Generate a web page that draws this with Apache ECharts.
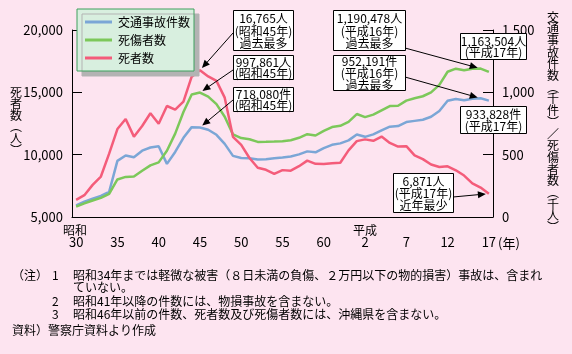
<!DOCTYPE html>
<html>
<head>
<meta charset="utf-8">
<script src="https://cdn.jsdelivr.net/npm/echarts@6/dist/echarts.min.js"></script>
<style>
  html, body { margin: 0; padding: 0; background: #fde4f0; }
  #main { width: 572px; height: 354px; }
</style>
</head>
<body>
<div id="main"></div>
<script>
// 年（昭和30年～平成17年）
const categories = ['30', '31', '32', '33', '34', '35', '36', '37', '38', '39',
  '40', '41', '42', '43', '44', '45', '46', '47', '48', '49',
  '50', '51', '52', '53', '54', '55', '56', '57', '58', '59',
  '60', '61', '62', '63', '元', '2', '3', '4', '5', '6',
  '7', '8', '9', '10', '11', '12', '13', '14', '15', '16', '17']

// 死者数（人）
const deaths = [6379, 6751, 7575, 8248, 10079, 12055, 12865, 11445, 12301, 13318,
  12484, 13904, 13618, 14256, 16257, 16765, 16278, 15918, 14574, 11432,
  10792, 9734, 8945, 8783, 8466, 8760, 8719, 9073, 9520, 9262,
  9261, 9317, 9347, 10344, 11086, 11227, 11109, 11452, 10942, 10649,
  10684, 9942, 9640, 9211, 9006, 9066, 8747, 8326, 7702, 7358, 6871]

// 交通事故件数（千件）
const accidents = [94.0, 122.7, 146.8, 168.8, 201.3, 449.9, 493.7, 479.8, 532.0, 557.2,
  567.3, 425.9, 521.5, 635.1, 720.9, 718.1, 700.3, 659.3, 586.7, 490.5,
  472.9, 471.0, 460.6, 464.0, 471.6, 476.7, 485.6, 502.3, 526.4, 518.6,
  552.8, 579.2, 590.7, 614.5, 661.4, 643.1, 662.4, 695.3, 724.7, 729.5,
  761.8, 771.1, 780.4, 803.9, 850.4, 931.9, 947.2, 936.7, 948.3, 952.2, 933.8]

// 死傷者数（千人）
const casualties = [82.9, 108.8, 132.1, 153.7, 186.0, 301.2, 321.6, 325.3, 371.4, 414.4,
  438.2, 531.7, 669.0, 842.3, 983.3, 997.9, 966.0, 905.1, 804.5, 662.9,
  633.3, 623.7, 602.2, 602.9, 604.7, 607.5, 616.1, 635.3, 664.3, 653.6,
  690.6, 721.6, 731.5, 763.2, 825.9, 801.5, 821.4, 855.5, 889.6, 892.4,
  933.4, 952.1, 968.6, 999.9, 1059.4, 1164.8, 1189.8, 1176.4, 1189.1, 1190.5, 1163.5]

const seriesNames = ['交通事故件数', '死傷者数', '死者数']

const FONT = '"Noto Sans CJK JP", "Noto Sans", sans-serif'
const BLUE = '#7ba6d6'
const GREEN = '#7cc85a'
const RED = '#f45c7a'

const chart = echarts.init(document.getElementById('main'))

function vText(str, x, y, lh) {
  return {
    type: 'text', left: x, top: y,
    style: { text: str.split('').join('\n'), font: '12px ' + FONT, fill: '#000', align: 'center', lineHeight: lh }
  }
}

function plainText(str, x, y, size, align) {
  return {
    type: 'text', x: x, y: y,
    style: { text: str, font: (size || 12) + 'px ' + FONT, fill: '#000', align: align || 'left', verticalAlign: 'middle' }
  }
}

const option = {
  animation: false,
  backgroundColor: '#fde4f0',
  textStyle: { fontFamily: FONT },
  grid: { left: 72, right: 79, top: 30, bottom: 137 },
  legend: {
    orient: 'vertical',
    left: 77,
    top: 9,
    padding: [6, 4, 6, 8],
    itemWidth: 27,
    itemHeight: 3,
    itemGap: 4,
    icon: 'rect',
    backgroundColor: '#d8efdf',
    borderColor: '#3fa05f',
    borderWidth: 1,
    shadowColor: '#b3b3b3',
    shadowBlur: 0,
    shadowOffsetX: 5,
    shadowOffsetY: 5,
    textStyle: { fontSize: 12, lineHeight: 14, color: '#000', padding: [0, 0, 0, 1] },
    data: seriesNames
  },
  xAxis: {
    type: 'category',
    data: categories,
    boundaryGap: true,
    axisLine: { lineStyle: { color: '#000', width: 1 } },
    axisTick: { inside: true, length: 4, interval: 0, lineStyle: { color: '#000' } },
    axisLabel: {
      interval: (i) => i % 5 === 0,
      margin: 19,
      color: '#000',
      fontSize: 13
    }
  },
  yAxis: [
    {
      type: 'value', min: 5000, max: 20000, interval: 5000, position: 'left',
      axisLine: { show: true, lineStyle: { color: '#000' } },
      axisTick: { show: true, inside: true, length: 10, lineStyle: { color: '#000' } },
      splitLine: { show: false },
      axisLabel: { color: '#000', fontSize: 13, margin: 9, formatter: (v) => v.toLocaleString('en-US') }
    },
    {
      type: 'value', min: 0, max: 1500, interval: 500, position: 'right',
      axisLine: { show: true, lineStyle: { color: '#000' } },
      axisTick: { show: true, inside: true, length: 10, lineStyle: { color: '#000' } },
      splitLine: { show: false },
      axisLabel: { color: '#000', fontSize: 13, margin: 9, formatter: (v) => v.toLocaleString('en-US') }
    }
  ],
  series: [
    {
      name: seriesNames[0], type: 'line', yAxisIndex: 1, data: accidents,
      symbol: 'none', itemStyle: { color: BLUE }, lineStyle: { color: BLUE, width: 2.5 }
    },
    {
      name: seriesNames[1], type: 'line', yAxisIndex: 1, data: casualties,
      symbol: 'none', itemStyle: { color: GREEN }, lineStyle: { color: GREEN, width: 2.5 }
    },
    {
      name: seriesNames[2], type: 'line', yAxisIndex: 0, data: deaths,
      symbol: 'none', itemStyle: { color: RED }, lineStyle: { color: RED, width: 2.5 }
    }
  ]
}

chart.setOption(option)

// 吹き出し（ボックス位置はレイアウト、矢印の先はデータから計算）
const callouts = [
  { lines: ['16,765人', '(昭和45年)', '過去最多'], box: [233, 10, 60, 40], from: [233, 33], s: 2, i: 15 },
  { lines: ['997,861人', '(昭和45年)'], box: [233, 55, 60, 24], from: [233, 70], s: 1, i: 15 },
  { lines: ['718,080件', '(昭和45年)'], box: [233, 87, 60, 24], from: [233, 100], s: 0, i: 15 },
  { lines: ['1,190,478人', '(平成16年)', '過去最多'], box: [333, 10, 72, 40], from: [405, 48], s: 1, i: 49 },
  { lines: ['952,191件', '(平成16年)', '過去最多'], box: [333, 55, 72, 35], from: [405, 77], s: 0, i: 49 },
  { lines: ['1,163,504人', '(平成17年)'], box: [460, 33, 66, 26] },
  { lines: ['933,828件', '(平成17年)'], box: [460, 106, 66, 27] },
  { lines: ['6,871人', '(平成17年)', '近年最少'], box: [393, 173, 60, 39], from: [453, 197], s: 2, i: 50 }
]
const seriesData = [accidents, casualties, deaths]

const graphic = []
callouts.forEach((c) => {
  const [bx, by, bw, bh] = c.box
  graphic.push({
    type: 'rect', z: 10,
    shape: { x: bx + 0.5, y: by + 0.5, width: bw, height: bh },
    style: { fill: '#fff', stroke: '#000', lineWidth: 1 }
  })
  graphic.push({
    type: 'text', z: 11, x: bx + bw / 2 + 0.5, y: by + bh / 2 + 1,
    style: { text: c.lines.join('\n'), font: '12px ' + FONT, fill: '#000', align: 'center', verticalAlign: 'middle', lineHeight: bh > 30 ? 12.3 : 11.5 }
  })
  if (c.from) {
    const p = chart.convertToPixel({ seriesIndex: c.s }, [c.i, seriesData[c.s][c.i]])
    const dx = p[0] - c.from[0]
    const dy = p[1] - c.from[1]
    const len = Math.sqrt(dx * dx + dy * dy)
    const ux = dx / len
    const uy = dy / len
    const tip = [p[0] - ux * 3, p[1] - uy * 3]
    graphic.push({
      type: 'line', z: 12,
      shape: { x1: c.from[0], y1: c.from[1], x2: tip[0] - ux * 4, y2: tip[1] - uy * 4 },
      style: { stroke: '#000', lineWidth: 1 }
    })
    graphic.push({
      type: 'polygon', z: 12,
      shape: {
        points: [
          tip,
          [tip[0] - ux * 8 - uy * 3.5, tip[1] - uy * 8 + ux * 3.5],
          [tip[0] - ux * 8 + uy * 3.5, tip[1] - uy * 8 - ux * 3.5]
        ]
      },
      style: { fill: '#000' }
    })
  }
})

// 軸タイトル（縦書き）
graphic.push(vText('死者数︵人︶', 10, 86, 11.6))
graphic.push(vText('交通事故件数︵千件︶／死傷者数︵千人︶', 547, 11, 11.7))

// 年号
graphic.push(plainText('昭和', 75, 230, 12, 'center'))
graphic.push(plainText('平成', 365, 230, 12, 'center'))
graphic.push(plainText('(年)', 498, 243, 13, 'left'))

// 注記
graphic.push(plainText('（注）', 12, 275))
graphic.push(plainText('1', 52, 275))
graphic.push(plainText('昭和34年までは軽微な被害（８日未満の負傷、２万円以下の物的損害）事故は、含まれ', 73, 275))
graphic.push(plainText('ていない。', 73, 287))
graphic.push(plainText('2', 52, 301))
graphic.push(plainText('昭和41年以降の件数には、物損事故を含まない。', 73, 301))
graphic.push(plainText('3', 52, 314))
graphic.push(plainText('昭和46年以前の件数、死者数及び死傷者数には、沖縄県を含まない。', 73, 314))
graphic.push(plainText('資料）警察庁資料より作成', 12, 330))

chart.setOption({ graphic: graphic })
</script>
</body>
</html>
